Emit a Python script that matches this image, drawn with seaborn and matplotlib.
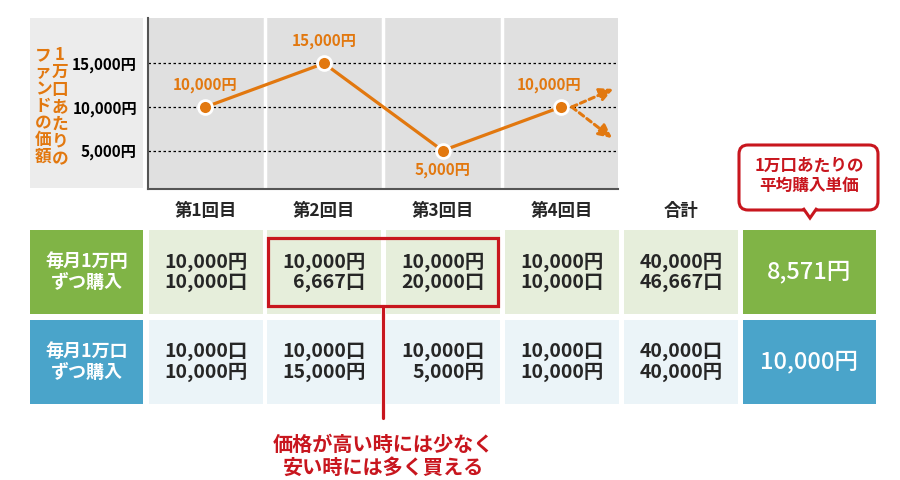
import matplotlib
matplotlib.use("Agg")
import matplotlib.pyplot as plt
import seaborn as sns
from matplotlib.patches import Rectangle, FancyBboxPatch, Polygon

sns.set_theme(style="white")
plt.rcParams['font.family'] = ['Noto Sans CJK JP', 'DejaVu Sans']

# data
rounds = ["第1回目", "第2回目", "第3回目", "第4回目"]
price = [10000, 15000, 5000, 10000]
yticks = [5000, 10000, 15000]
ylabel_right = "1万口あたりの"
ylabel_left = "ファンドの価額"

row_labels = ["毎月1万円\nずつ購入", "毎月1万口\nずつ購入"]
total_label = "合計"
yen_plan_yen = [10000, 10000, 10000, 10000]
yen_plan_units = [10000, 6667, 20000, 10000]
unit_plan_units = [10000, 10000, 10000, 10000]
unit_plan_yen = [10000, 15000, 5000, 10000]
totals_yen_plan = [40000, 46667]      # 円, 口
totals_unit_plan = [40000, 40000]     # 口, 円
avg_price = [8571, 10000]
callout_text = "1万口あたりの\n平均購入単価"
note_text = "価格が高い時には少なく\n安い時には多く買える"

# colours
orange = "#e2780f"
red = "#c8161e"
green = "#80b446"
blue = "#4aa4ca"
light_green = "#e6eedb"
light_blue = "#ebf4f8"

fig = plt.figure(figsize=(9, 4.8), dpi=100)

# background axes in pixel coords
bg = fig.add_axes([0, 0, 1, 1])
bg.set_xlim(0, 900)
bg.set_ylim(480, 0)
bg.axis("off")

# left gray panel for y labels
bg.add_patch(Rectangle((30, 18), 113, 170, color="#ececec", lw=0))
bg.text(60, 46, "\n".join(ylabel_right), color=orange, fontsize=12, fontweight="bold",
        ha="center", va="top", linespacing=0.95)
bg.text(43, 46, "\n".join(ylabel_left), color=orange, fontsize=12, fontweight="bold",
        ha="center", va="top", linespacing=0.93)

# price line chart
ax = fig.add_axes([148 / 900, 1 - 189 / 480, 470 / 900, 171 / 480])
ax.set_facecolor("#e0e0e0")
x = list(range(len(price)))
for sep in [0.5, 1.5, 2.5]:
    ax.axvline(sep, color="white", lw=2.5, zorder=0.5)
for yt in yticks:
    ax.axhline(yt, color="black", lw=0.9, linestyle=(0, (2, 2)), zorder=0.8)
sns.lineplot(x=x, y=price, ax=ax, color=orange, lw=2.3, marker="o", markersize=10,
             markeredgecolor="white", markeredgewidth=2, zorder=3)
offsets = [(0, 16), (0, 16), (0, -14), (-9, 16)]
for xi, p, off in zip(x, price, offsets):
    ax.annotate(f"{p:,}円", (xi, p), xytext=off, textcoords="offset points",
                ha="center", va="center", color=orange, fontsize=11, fontweight="bold")
# dashed arrows from last point
for target in [(3.44, 12070), (3.43, 6440)]:
    ax.annotate("", xy=target, xytext=(3.09, price[3]),
                arrowprops=dict(arrowstyle="-|>", color=orange, lw=2.2,
                                linestyle=(0, (1.8, 1.3)), mutation_scale=20,
                                shrinkA=0, shrinkB=0), zorder=2)
ax.set_xlim(-0.485, 3.48)
ax.set_ylim(600, 20200)
ax.set_xticks([])
ax.set_yticks(yticks)
ax.set_yticklabels([f"{v:,}円" for v in yticks], fontsize=11, fontweight="bold", color="black")
ax.tick_params(axis="y", length=0, pad=8)
for s in ["top", "right"]:
    ax.spines[s].set_visible(False)
for s in ["left", "bottom"]:
    ax.spines[s].set_color("#555555")
    ax.spines[s].set_linewidth(1.5)

# table
col_x = [149, 267, 386, 505, 624]
col_w = 114
res_x, res_w = 743, 133
lab_x, lab_w = 30, 113
row_y = [230, 320]
row_h = 84

for cx, name in zip(col_x, rounds + [total_label]):
    bg.text(cx + col_w / 2, 211, name, ha="center", va="center", fontsize=12.5, fontweight="bold")

row_cells = [
    [f"{a:,}円\n{b:,}口" for a, b in zip(yen_plan_yen, yen_plan_units)]
    + [f"{totals_yen_plan[0]:,}円\n{totals_yen_plan[1]:,}口"],
    [f"{a:,}口\n{b:,}円" for a, b in zip(unit_plan_units, unit_plan_yen)]
    + [f"{totals_unit_plan[0]:,}口\n{totals_unit_plan[1]:,}円"],
]
dark = [green, blue]
light = [light_green, light_blue]
for r in range(2):
    y0 = row_y[r]
    bg.add_patch(Rectangle((lab_x, y0), lab_w, row_h, color=dark[r], lw=0))
    bg.text(lab_x + lab_w / 2, y0 + row_h / 2, row_labels[r], color="white", fontsize=13,
            fontweight="bold", ha="center", va="center", linespacing=1.1)
    for cx, txt in zip(col_x, row_cells[r]):
        bg.add_patch(Rectangle((cx, y0), col_w, row_h, color=light[r], lw=0))
        bg.text(cx + col_w / 2, y0 + row_h / 2, txt, fontsize=14, fontweight="bold",
                ha="center", va="center", multialignment="right", linespacing=1.05)
    bg.add_patch(Rectangle((res_x, y0), res_w, row_h, color=dark[r], lw=0))
    bg.text(res_x + res_w / 2, y0 + row_h / 2, f"{avg_price[r]:,}円", color="white",
            fontsize=17, fontweight=500, ha="center", va="center")

# red highlight box and note
bg.add_patch(Rectangle((268, 238), 230, 68, fill=False, ec=red, lw=2.3, zorder=5))
bg.plot([383, 383], [306, 418], color=red, lw=2.3, zorder=5)
bg.text(383, 456, note_text, color=red, fontsize=14.5, fontweight="bold",
        ha="center", va="center", linespacing=1.1)

# callout
bg.add_patch(FancyBboxPatch((742, 148), 133, 59, boxstyle="round,pad=3,rounding_size=9",
                            fc="white", ec=red, lw=2.2, zorder=5))
bg.add_patch(Polygon([(803, 208), (810, 218), (817, 208)], closed=False, fc="white",
                     ec=red, lw=2.2, zorder=6))
bg.text(809, 176, callout_text, color=red, fontsize=12, fontweight="bold",
        ha="center", va="center", linespacing=1.2, zorder=7)

fig.savefig("out.png", dpi=100)
